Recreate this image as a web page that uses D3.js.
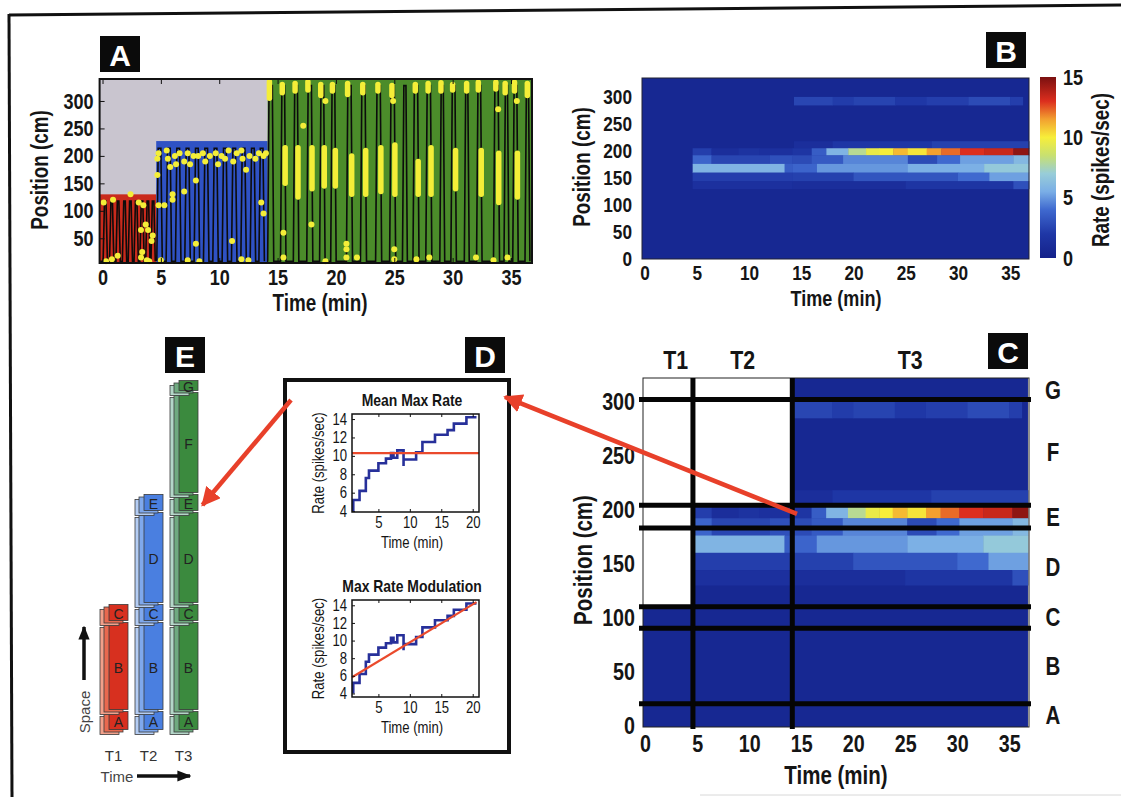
<!DOCTYPE html>
<html>
<head>
<meta charset="utf-8">
<script src="https://cdn.jsdelivr.net/npm/d3@7"></script>
<style>
body { margin: 0; background: #fff; }
</style>
</head>
<body>
<svg id="fig" width="1121" height="797"></svg>
<script>
// ---------- data ----------
const minTicks = [0, 5, 10, 15, 20, 25, 30, 35];
const posTicksA = [50, 100, 150, 200, 250, 300];
const posTicksBC = [0, 50, 100, 150, 200, 250, 300];
const rateTicks = [0, 5, 10, 15];

const sessionNames = ["T1", "T2", "T3"];
const sessionStart = [-0.25, 4.6, 14.15];
const sessionEnd = [4.6, 14.15, 36.8];
const trackLength = [130, 227, 340];
const lapTop = [118, 214, 328];
const lapBottom = 8;
const runDur = 0.12;

// [leave bottom, leave top] in minutes
const lapsT1 = [[0.05,0.3],[0.6,0.85],[1.15,1.4],[1.7,1.95],[2.2,2.45],[2.7,2.95],[3.2,3.45],[3.7,3.95],[4.15,4.4]];
const lapsT2 = [[4.65,5.0],[5.45,5.8],[6.25,6.6],[7.05,7.4],[7.85,8.2],[8.65,9.0],[9.45,9.8],[10.25,10.6],[11.05,11.4],[11.85,12.2],[12.65,13.0],[13.4,13.75]];
const lapsT3 = [[14.15,14.55],[15.25,15.6],[16.35,16.7],[17.5,17.9],[18.6,18.95],[19.55,19.9],[20.9,21.3],[22.1,22.5],[23.4,23.8],[24.6,25.0],[25.7,26.0],[26.6,27.0],[27.7,28.1],[28.9,29.2],[29.85,30.2],[31.0,31.3],[32.05,32.4],[33.5,33.9],[34.4,34.7],[35.15,35.5],[36.2,36.5]];

// spike bursts [time, pos from, pos to]
const spikeBursts = [[15.65,150,215],[16.75,125,215],[17.95,140,215],[19.0,145,215],[19.95,145,210],[21.35,130,200],[22.55,130,210],[23.85,135,215],[25.05,130,220],[27.05,130,190],[28.15,130,215],[30.25,140,210],[32.45,130,210],[33.95,115,205],[35.55,125,205],
  [14.3,305,335],[15.4,315,330],[16.5,318,332],[17.6,320,335],[18.7,310,330],[19.7,318,330],[21.0,312,332],[22.3,315,330],[23.6,318,330],[24.8,310,328],[26.8,318,330],[27.9,318,332],[29.0,318,333],[30.0,320,330],[31.2,318,332],[32.2,320,334],[33.7,322,334],[34.5,315,332],[35.3,318,334],[36.4,310,332]];
// single spikes [time, pos]
const spikeDots = [
  [0.1,115],[0.9,120],[2.4,130],[3.1,115],[3.5,110],[3.7,75],[3.9,65],[4.3,55],[4.2,45],[3.3,65],[3.4,25],[0.3,8],[0.8,12],[1.3,18],[3.3,15],[4.0,8],[3.8,10],
  [4.7,195],[4.8,205],[5.5,210],[5.6,195],[5.8,180],[6.2,200],[6.3,185],[6.6,205],[7.0,190],[7.3,205],[7.5,185],[7.8,200],[8.2,200],[8.6,205],[8.8,190],[9.2,200],[9.7,205],[9.9,185],[10.2,200],[10.5,195],[10.8,210],[11.2,190],[11.5,205],[11.9,210],[12.0,195],[12.3,175],[12.6,200],[13.1,195],[13.4,205],[13.8,200],[14.0,205],
  [4.7,165],[5.3,110],[6.0,120],[6.0,130],[4.8,110],[8.0,155],[7.0,135],[11.1,45],[8.0,40],[13.6,115],[13.8,95],[7.3,10],[5.0,10],[8.3,8],[11.9,12],[12.5,10],
  [15.5,60],[15.5,15],[17.2,255],[17.9,75],[19.1,8],[20.9,40],[20.9,30],[20.9,15],[21.8,15],[25.0,30],[25.0,12],[26.9,12],[28.0,15],[32.0,15],[33.5,10],[34.7,15],[33.9,285],[35.5,300],[19.1,300],[24.9,300]];

// rate map: position bins (cm) and their [t0, t1, rate] cells
const bgRate = 0.6;
const rowBins = [[285,300],[205,218],[192,205],[176,192],[160,176],[144,160],[130,144]];
const rowRates = [
  [[14.3,18.0,2.6],[18.0,20.0,2.2],[20.0,24.0,2.5],[24.0,27.0,2.0],[27.0,31.0,2.3],[31.0,35.0,2.8],[35.0,36.2,2.3]],
  [[14.3,18.0,1.2],[18.0,27.5,1.9],[27.5,36.8,2.4]],
  [[4.6,6.4,2.3],[6.4,9.0,1.2],[9.0,11.0,1.6],[11.0,14.15,1.4],[14.15,16.0,1.8],[16.0,17.4,3.5],[17.4,19.5,5.8],[19.5,21.2,8.0],[21.2,22.5,9.6],[22.5,23.8,10.0],[23.8,25.2,11.0],[25.2,27.0,10.2],[27.0,28.4,11.5],[28.4,30.2,12.2],[30.2,32.5,13.0],[32.5,35.3,13.4],[35.3,36.8,14.6]],
  [[4.6,6.4,3.8],[6.4,12.0,2.6],[12.0,14.15,3.0],[14.15,16.0,2.8],[16.0,19.0,3.4],[19.0,25.2,4.6],[25.2,28.0,2.8],[28.0,30.2,4.0],[30.2,35.3,5.2],[35.3,36.8,6.0]],
  [[4.6,13.4,5.8],[13.4,14.15,3.5],[14.15,16.5,3.8],[16.5,25.2,5.0],[25.2,32.5,5.6],[32.5,36.8,6.8]],
  [[4.6,14.15,2.3],[14.15,20.0,2.4],[20.0,30.0,3.2],[30.0,33.0,4.0],[33.0,36.8,5.2]],
  [[4.6,14.15,1.4],[14.15,25.0,1.2],[25.0,35.3,1.8],[35.3,36.8,3.0]]
];

// track zones (cm)
const zoneNames = ["A", "B", "C", "D", "E", "F", "G"];
const zoneEdges = [0, 20, 90, 110, 183, 204, 302, 320];
const zonesPerSession = [3, 5, 7];
const ceilC = [110, 204, 322];

// panel D
const maxRateSteps = [[1,4.0],[1,5.2],[2,6.2],[3,7.6],[3.5,8.4],[5,9.2],[6.2,9.7],[7,10.3],[7.4,9.8],[8,10.6],[9,8.9],[9,9.6],[11,10.4],[12,11.5],[14,12.3],[16,12.8],[17,13.5],[19,14.2],[20.6,14.2]];
const meanMaxRate = 10.3;
const fitIntercept = 5.5, fitSlope = 0.43;
const dTimeTicks = [5, 10, 15, 20];
const dRateTicks = [4, 6, 8, 10, 12, 14];

// ---------- drawing ----------
const NARROW = '"Liberation Sans Narrow","Liberation Sans",Arial,sans-serif';
const REG = '"Liberation Sans",Arial,sans-serif';
const svg = d3.select("#fig");
const defs = svg.append("defs");

const rateColor = d3.scaleLinear()
  .domain([0, 2, 4, 5.5, 7, 8.5, 10, 11.5, 13, 15])
  .range(["#14218a","#1f37a6","#3f69cf","#7aaee6","#98cdd8","#c8e070","#f7ee3a","#f2a030","#dc2e1e","#7a1010"])
  .clamp(true);

function styleAxis(g, size, weight) {
  g.select(".domain").remove();
  g.attr("font-family", NARROW).attr("font-size", size);
  g.selectAll("text").attr("font-weight", weight || "bold").attr("fill", "#151515").classed("nw", true);
  g.selectAll("line").attr("stroke", "#111");
}
function label(x, y, txt, size, opts) {
  opts = opts || {};
  const t = svg.append("text")
    .attr("x", x).attr("y", y)
    .attr("text-anchor", opts.anchor || "middle")
    .attr("dominant-baseline", "central")
    .attr("font-family", opts.family || NARROW)
    .attr("font-weight", opts.weight || "bold")
    .attr("font-size", size)
    .attr("fill", opts.fill || "#151515")
    .classed("nw", !opts.family)
    .text(txt);
  if (opts.rotate) t.attr("transform", `rotate(${opts.rotate},${x},${y})`);
  return t;
}
function panelTag(x, y, letter) {
  svg.append("rect").attr("x", x).attr("y", y).attr("width", 40).attr("height", 36).attr("fill", "#0b0b0b");
  label(x + 20, y + 19, letter, 30, { family: REG, fill: "#fff" });
}

// frame
svg.append("line").attr("x1", 9).attr("y1", 15).attr("x2", 1121).attr("y2", 5).attr("stroke", "#111").attr("stroke-width", 3);
svg.append("line").attr("x1", 9).attr("y1", 14).attr("x2", 12).attr("y2", 797).attr("stroke", "#111").attr("stroke-width", 3);
svg.append("line").attr("x1", 700).attr("y1", 795).attr("x2", 1121).attr("y2", 795).attr("stroke", "#d8d8d8").attr("stroke-width", 1);

// ===== Panel A =====
const xA = d3.scaleLinear().domain([-0.25, 36.8]).range([99.6, 532]);
const yA = d3.scaleLinear().domain([5, 340]).range([263, 79]);
const gA = svg.append("g");
gA.append("rect").attr("x", xA(-0.25)).attr("y", yA(340)).attr("width", xA(36.8) - xA(-0.25)).attr("height", yA(5) - yA(340)).attr("fill", "#c9c5cf");
const sessFill = ["#c92a1c", "#2f52c4", "#4b8c2a"];
sessionNames.forEach((s, i) => {
  gA.append("rect").attr("x", xA(sessionStart[i])).attr("y", yA(Math.min(trackLength[i], 340)))
    .attr("width", xA(sessionEnd[i]) - xA(sessionStart[i]))
    .attr("height", yA(5) - yA(Math.min(trackLength[i], 340)))
    .attr("fill", sessFill[i]);
});
[lapsT1, lapsT2, lapsT3].forEach((laps, i) => {
  const pts = [[sessionStart[i] + 0.05, lapBottom]];
  laps.forEach(([tu, td]) => {
    pts.push([tu, lapBottom], [tu + runDur, lapTop[i]], [td, lapTop[i]], [td + runDur, lapBottom]);
  });
  gA.append("path").datum(pts)
    .attr("d", d3.line().x(d => xA(d[0])).y(d => yA(d[1])))
    .attr("fill", "none").attr("stroke", "#0c0c0c").attr("stroke-width", 1.6);
});
gA.selectAll(".burst").data(spikeBursts).join("line")
  .attr("x1", d => xA(d[0])).attr("x2", d => xA(d[0]))
  .attr("y1", d => yA(d[1])).attr("y2", d => yA(d[2]))
  .attr("stroke", "#f4ee38").attr("stroke-width", 5.5).attr("stroke-linecap", "round");
gA.selectAll(".dot").data(spikeDots).join("circle")
  .attr("cx", d => xA(d[0])).attr("cy", d => yA(d[1])).attr("r", 3).attr("fill", "#f4ee38");
gA.append("rect").attr("x", 99.6).attr("y", 79).attr("width", 432.4).attr("height", 184).attr("fill", "none").attr("stroke", "#111").attr("stroke-width", 2);
gA.append("g").attr("transform", "translate(0,263)").call(d3.axisBottom(xA).tickValues(minTicks).tickSize(-5).tickPadding(6)).call(g => styleAxis(g, 22));
gA.append("g").attr("transform", "translate(0,79)").call(d3.axisTop(xA).tickValues(minTicks).tickSize(-5).tickFormat("")).call(g => styleAxis(g, 22));
gA.append("g").attr("transform", "translate(99.6,0)").call(d3.axisLeft(yA).tickValues(posTicksA).tickSize(-5).tickPadding(6)).call(g => styleAxis(g, 22));
label(320, 303, "Time (min)", 23);
label(40, 170, "Position (cm)", 23, { rotate: -90 });
panelTag(100, 36, "A");

// ===== Panel B =====
const xB = d3.scaleLinear().domain([-0.25, 36.8]).range([642, 1029]);
const yB = d3.scaleLinear().domain([0, 335]).range([259, 78]);
const gB = svg.append("g");
gB.append("rect").attr("x", 642).attr("y", 78).attr("width", 387).attr("height", 181).attr("fill", rateColor(bgRate));
rowBins.forEach((bin, r) => {
  gB.selectAll(null).data(rowRates[r]).join("rect")
    .attr("x", d => xB(d[0])).attr("width", d => xB(d[1]) - xB(d[0]) + 0.4)
    .attr("y", yB(bin[1])).attr("height", yB(bin[0]) - yB(bin[1]) + 0.4)
    .attr("fill", d => rateColor(d[2]));
});
gB.append("rect").attr("x", 642).attr("y", 78).attr("width", 387).attr("height", 181).attr("fill", "none").attr("stroke", "#223").attr("stroke-width", 1);
gB.append("g").attr("transform", "translate(0,259)").call(d3.axisBottom(xB).tickValues(minTicks).tickSize(0).tickPadding(6)).call(g => styleAxis(g, 21));
gB.append("g").attr("transform", "translate(642,0)").call(d3.axisLeft(yB).tickValues(posTicksBC).tickSize(0).tickPadding(10)).call(g => styleAxis(g, 21));
label(836, 298, "Time (min)", 22);
label(582, 167, "Position (cm)", 23, { rotate: -90 });
// colorbar
const cbY = d3.scaleLinear().domain([0, 15]).range([258, 77]);
const grad = defs.append("linearGradient").attr("id", "jet").attr("x1", 0).attr("y1", 1).attr("x2", 0).attr("y2", 0);
grad.selectAll("stop").data(rateColor.domain()).join("stop")
  .attr("offset", d => d / 15).attr("stop-color", d => rateColor(d));
svg.append("rect").attr("x", 1040).attr("y", 77).attr("width", 16).attr("height", 181).attr("fill", "url(#jet)");
svg.append("g").attr("transform", "translate(1056,0)").call(d3.axisRight(cbY).tickValues(rateTicks).tickSize(0).tickPadding(7)).call(g => styleAxis(g, 22));
label(1101, 170, "Rate (spikes/sec)", 23, { rotate: -90 });
panelTag(986, 32, "B");

// ===== Panel C =====
const xC = d3.scaleLinear().domain([-0.2, 36.9]).range([643, 1029]);
const yC = d3.scaleLinear().domain([-1.5, 322]).range([727, 378]);
const gC = svg.append("g");
gC.append("rect").attr("x", 643).attr("y", 378).attr("width", 386).attr("height", 349).attr("fill", "#fff");
sessionNames.forEach((s, i) => {
  const x0 = xC(Math.max(sessionStart[i], -0.2)), x1 = xC(sessionEnd[i]);
  gC.append("rect").attr("x", x0).attr("y", yC(ceilC[i])).attr("width", x1 - x0).attr("height", yC(-1.5) - yC(ceilC[i])).attr("fill", rateColor(bgRate));
});
rowBins.forEach((bin, r) => {
  rowRates[r].forEach(d => {
    const si = d[0] < sessionStart[2] ? 1 : 2;
    const top = Math.min(bin[1], ceilC[si]);
    if (top <= bin[0]) return;
    gC.append("rect").attr("x", xC(d[0])).attr("width", xC(d[1]) - xC(d[0]) + 0.4)
      .attr("y", yC(top)).attr("height", yC(bin[0]) - yC(top) + 0.4)
      .attr("fill", rateColor(d[2]));
  });
});
gC.append("rect").attr("x", 643).attr("y", 378).attr("width", 386).attr("height", 349).attr("fill", "none").attr("stroke", "#222").attr("stroke-width", 1);
gC.selectAll(".zl").data(zoneEdges.slice(1, -1)).join("line")
  .attr("x1", 639).attr("x2", 1031).attr("y1", d => yC(d)).attr("y2", d => yC(d))
  .attr("stroke", "#050505").attr("stroke-width", 5);
gC.selectAll(".sl").data(sessionStart.slice(1)).join("line")
  .attr("x1", d => xC(d)).attr("x2", d => xC(d)).attr("y1", 378).attr("y2", 729)
  .attr("stroke", "#050505").attr("stroke-width", 5);
gC.append("g").attr("transform", "translate(0,727)").call(d3.axisBottom(xC).tickValues(minTicks).tickSize(0).tickPadding(8)).call(g => styleAxis(g, 24));
gC.append("g").attr("transform", "translate(643,0)").call(d3.axisLeft(yC).tickValues(posTicksBC).tickSize(0).tickPadding(8)).call(g => styleAxis(g, 24));
zoneNames.forEach((z, i) => label(1053, yC((zoneEdges[i] + zoneEdges[i + 1]) / 2), z, 25));
sessionNames.forEach((s, i) => label(xC((Math.max(sessionStart[i], 1.3) + sessionEnd[i]) / 2), 360, s, 26));
label(836, 775, "Time (min)", 25);
label(583, 560, "Position (cm)", 25, { rotate: -90 });
panelTag(988, 333, "C");

// ===== Panel D =====
svg.append("rect").attr("x", 285).attr("y", 380).attr("width", 224).attr("height", 372).attr("fill", "#fff").attr("stroke", "#111").attr("stroke-width", 4);
const xD = d3.scaleLinear().domain([0.8, 21]).range([352, 479]);
const dPlots = [
  { y: d3.scaleLinear().domain([3.9, 14.55]).range([512, 414]), title: "Mean Max Rate", titleY: 400, fit: "mean" },
  { y: d3.scaleLinear().domain([3.6, 14.6]).range([697, 600]), title: "Max Rate Modulation", titleY: 586, fit: "slope" }
];
dPlots.forEach(p => {
  const g = svg.append("g");
  const [yb, yt] = p.y.range();
  g.append("path").datum(maxRateSteps)
    .attr("d", d3.line().curve(d3.curveStepAfter).x(d => xD(d[0])).y(d => p.y(d[1])))
    .attr("fill", "none").attr("stroke", "#27309a").attr("stroke-width", 2.6);
  const fitLine = p.fit === "mean"
    ? [[0.8, meanMaxRate], [21, meanMaxRate]]
    : [[0.8, fitIntercept + fitSlope * 0.8], [20.6, fitIntercept + fitSlope * 20.6]];
  g.append("path").datum(fitLine)
    .attr("d", d3.line().x(d => xD(d[0])).y(d => p.y(d[1])))
    .attr("stroke", "#ea4a2c").attr("stroke-width", 2.2);
  g.append("rect").attr("x", 352).attr("y", yt).attr("width", 127).attr("height", yb - yt).attr("fill", "none").attr("stroke", "#111").attr("stroke-width", 1.5);
  g.append("g").attr("transform", `translate(0,${yb})`).call(d3.axisBottom(xD).tickValues(dTimeTicks).tickSize(-3).tickPadding(5)).call(a => styleAxis(a, 16, "normal"));
  g.append("g").attr("transform", `translate(0,${yt})`).call(d3.axisTop(xD).tickValues(dTimeTicks).tickSize(-3).tickFormat("")).call(a => styleAxis(a, 16));
  g.append("g").attr("transform", "translate(352,0)").call(d3.axisLeft(p.y).tickValues(dRateTicks).tickSize(-3).tickPadding(5)).call(a => styleAxis(a, 16, "normal"));
  label(412, p.titleY, p.title, 17);
  label(412, yb + 30, "Time (min)", 16, { weight: "normal" });
  label(318, (yb + yt) / 2, "Rate (spikes/sec)", 16, { weight: "normal", rotate: -90 });
});
panelTag(465, 337, "D");

// ===== Panel E =====
const eY = d3.scaleLinear().domain(zoneEdges).range([733, 713, 624, 606, 514, 496, 394, 382]);
const eX = d3.scalePoint().domain(sessionNames).range([118.5, 188.5]);
const eColors = [["#f2a08a", "#e9694f", "#d7301f"], ["#b4cdf4", "#7fa8ec", "#4a7fe0"], ["#b3d6c8", "#6faa80", "#3b8a3e"]];
const layerOffset = [[-9, 5], [-5, 2.5], [0, 0]];
const gE = svg.append("g");
sessionNames.forEach((s, i) => {
  const cx = eX(s);
  for (let z = 0; z < zonesPerSession[i]; z++) {
    const yTop = eY(zoneEdges[z + 1]) + 1, yBot = eY(zoneEdges[z]) - 1;
    layerOffset.forEach((o, l) => {
      gE.append("rect").attr("x", cx - 9.5 + o[0]).attr("y", yTop + o[1] - 2.5)
        .attr("width", 19).attr("height", yBot - yTop)
        .attr("fill", eColors[i][l]).attr("stroke", "#3a3a3a").attr("stroke-width", 0.8);
    });
    label(cx, (yTop + yBot) / 2 - 1, zoneNames[z], 14, { family: REG, weight: "normal", fill: "#222" });
  }
  label(cx - 5, 755, s, 15, { family: REG, weight: "normal", fill: "#333" });
});
label(117, 776, "Time", 15, { family: REG, weight: "normal", fill: "#444" });
label(84, 712, "Space", 15, { family: REG, weight: "normal", fill: "#444", rotate: -90 });
defs.append("marker").attr("id", "blk").attr("viewBox", "0 0 10 10").attr("refX", 9).attr("refY", 5)
  .attr("markerWidth", 4).attr("markerHeight", 4).attr("orient", "auto")
  .append("path").attr("d", "M0,1 L10,5 L0,9 Z").attr("fill", "#111");
svg.append("line").attr("x1", 137).attr("y1", 776).attr("x2", 190).attr("y2", 776).attr("stroke", "#111").attr("stroke-width", 3.5).attr("marker-end", "url(#blk)");
svg.append("line").attr("x1", 84).attr("y1", 680).attr("x2", 84).attr("y2", 627).attr("stroke", "#111").attr("stroke-width", 3.5).attr("marker-end", "url(#blk)");
panelTag(165, 337, "E");

// ===== red arrows =====
defs.append("marker").attr("id", "red").attr("viewBox", "0 0 10 10").attr("refX", 9).attr("refY", 5)
  .attr("markerWidth", 4.2).attr("markerHeight", 4.2).attr("orient", "auto")
  .append("path").attr("d", "M0,0 L10,5 L0,10 Z").attr("fill", "#e8402a");
svg.append("line").attr("x1", xC(14.6)).attr("y1", yC(196)).attr("x2", 505).attr("y2", 397)
  .attr("stroke", "#e8402a").attr("stroke-width", 4.5).attr("marker-end", "url(#red)");
svg.append("line").attr("x1", 291).attr("y1", 400).attr("x2", eX("T3") + 14).attr("y2", eY(193.5))
  .attr("stroke", "#e8402a").attr("stroke-width", 4.5).attr("marker-end", "url(#red)");

// squeeze the figure's labels to a narrow face like the original
svg.selectAll("text.nw").each(function () {
  const w = this.getComputedTextLength();
  if (w > 0) d3.select(this).attr("textLength", w * 0.82).attr("lengthAdjust", "spacingAndGlyphs");
});
</script>
</body>
</html>
